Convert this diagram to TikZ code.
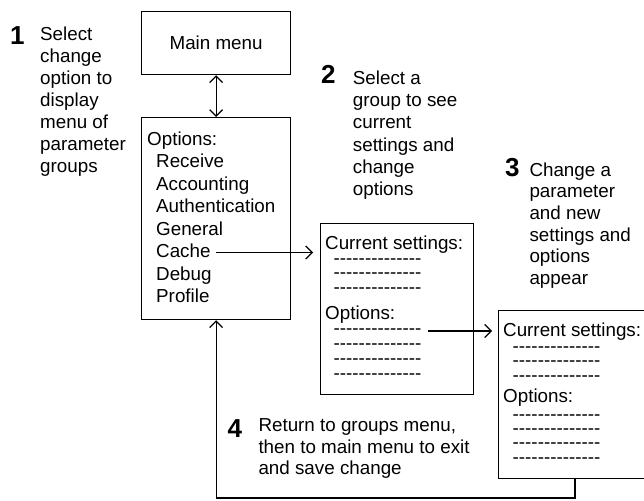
\documentclass[tikz,border=0pt]{standalone}
\usepackage{fontspec}
\setmainfont{Liberation Sans}
\usetikzlibrary{arrows.meta}
% a row of fourteen separate hyphens (boxed so they never merge into dashes)
\newcommand\dashrow{\mbox{-}\mbox{-}\mbox{-}\mbox{-}\mbox{-}\mbox{-}\mbox{-}\mbox{-}\mbox{-}\mbox{-}\mbox{-}\mbox{-}\mbox{-}\mbox{-}}
\begin{document}
\begin{tikzpicture}[x=1pt,y=-1pt,
  box/.style={draw, line width=1.2pt, rectangle, inner sep=0pt, anchor=north west},
  txt/.style={anchor=base west, inner sep=0pt, font=\fontsize{18.8}{22}\selectfont},
  num/.style={anchor=base west, inner sep=0pt, font=\fontsize{26}{30}\selectfont\bfseries},
  barb/.tip={Straight Barb[length=6.5pt,width=13pt,line width=1.2pt]},
  link/.style={line width=1.2pt, -barb},
  dlink/.style={line width=1.2pt, barb-barb},
  wire/.style={line width=1.2pt},
  ]
\clip (0,0) rectangle (644,500);

% ---- boxes ----
\node[box, minimum width=149pt, minimum height=63pt,
      font=\fontsize{18.8}{22}\selectfont] (menu) at (141,11) {Main menu};
\node[box, minimum width=149pt, minimum height=202pt] (groups) at (141,117) {};
\node[box, minimum width=153pt, minimum height=171pt] (view) at (320,223) {};
\node[box, minimum width=200pt, minimum height=168pt] (changed) at (498,310) {};

% ---- group menu ----
\node[txt] (gh) at (147,145) {Options:};
\foreach \t [count=\i] in {Receive,Accounting,Authentication,General,Cache,Debug,Profile}
  \node[txt] (g\i) at (156,{145+22.5*\i}) {\t};

% ---- settings screen after choosing a group ----
\node[txt] (vh) at (325,249.7) {Current settings:};
\foreach \o [count=\i] in {14.5,29,43.5}
  \node[txt] (vc\i) at (333.5,{249.7+\o}) {\dashrow};
\node[txt] (vo) at (325,{249.7+70}) {Options:};
\foreach \o [count=\i] in {85,100,115,130}
  \node[txt] (vd\i) at (333.5,{249.7+\o}) {\dashrow};

% ---- settings screen after a change ----
\node[txt] (ch) at (503,336.7) {Current settings:};
\foreach \o [count=\i] in {15.5,30,45}
  \node[txt] (cc\i) at (512.5,{336.7+\o}) {\dashrow};
\node[txt] (co) at (503,{336.7+66}) {Options:};
\foreach \o [count=\i] in {84,97.5,112,127}
  \node[txt] (cd\i) at (512.5,{336.7+\o}) {\dashrow};

% ---- step notes ----
\node[num] (n1) at (10,45) {1};
\foreach \t [count=\i] in {Select,change,option to,display,menu of,parameter,groups}
  \node[txt] (s1-\i) at (40,{40.7+22*(\i-1)}) {\t};

\node[num] (n2) at (321,83.3) {2};
\foreach \t [count=\i] in {Select a,group to see,current,settings and,change,options}
  \node[txt] (s2-\i) at (352.7,{84.5+22.2*(\i-1)}) {\t};

\node[num] (n3) at (505,176.7) {3};
\foreach \t [count=\i] in {Change a,parameter,and new,settings and,options,appear}
  \node[txt] (s3-\i) at (529.3,{176+21.7*(\i-1)}) {\t};

\node[num] (n4) at (227.5,437) {4};
\foreach \t [count=\i] in {{Return to groups menu,},then to main menu to exit,and save change}
  \node[txt] (s4-\i) at (258.3,{431.7+21.5*(\i-1)}) {\t};

% ---- connectors ----
\draw[dlink] (menu.south) -- (groups.north);

\coordinate (cachefrom) at (216,252.5);
\draw[link, shorten >=7pt] (cachefrom) -- (view.west |- cachefrom);

\coordinate (optfrom) at (428,331);
\draw[link, shorten >=6pt] (optfrom) -- (changed.west |- optfrom);

\coordinate (loopR) at (575,498);
\coordinate (loopL) at (groups.south |- loopR);
\draw[wire] (loopR |- changed.south) -- (loopR) -- (loopL);
\draw[link] (loopL) -- (groups.south);
\end{tikzpicture}
\end{document}
